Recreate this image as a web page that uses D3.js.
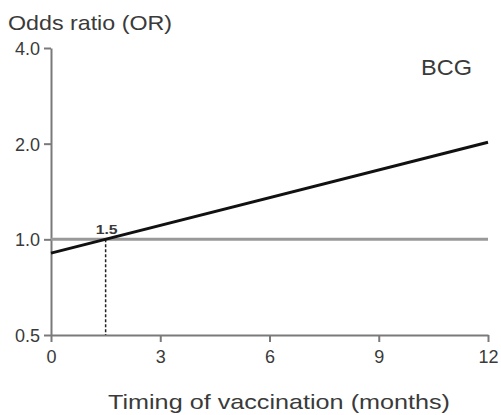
<!DOCTYPE html>
<html>
<head>
<meta charset="utf-8">
<script src="https://cdn.jsdelivr.net/npm/d3@7"></script>
<style>
  body { margin: 0; background: #fff; }
  svg { display: block; font-family: "Liberation Sans", Arial, sans-serif; }
</style>
</head>
<body>
<div id="chart"></div>
<script>
// fitted OR line (log scale), crosses 1.0 at 1.5 months
const lineMonths = [0, 12];
const lineOR = [0.905, 2.02];
const refOR = 1.0;
const crossMonth = 1.5;
const xTicks = [0, 3, 6, 9, 12];
const yTicks = [0.5, 1, 2, 4];
const yTickLabels = ['0.5', '1.0', '2.0', '4.0'];

const width = 501, height = 415;
const margin = { top: 48, right: 13, bottom: 80, left: 51 };

const svg = d3.select('#chart').append('svg')
  .attr('width', width)
  .attr('height', height);

const x = d3.scaleLinear()
  .domain([0, 12])
  .range([margin.left, width - margin.right]);

const y = d3.scaleLog()
  .base(2)
  .domain([0.5, 4])
  .range([height - margin.bottom, margin.top]);

const axisColor = '#7a7a7a';
const textColor = '#3a3a3a';

// axes
const xAxis = svg.append('g')
  .attr('transform', `translate(0, ${height - margin.bottom})`)
  .call(d3.axisBottom(x).tickValues(xTicks).tickSize(7).tickSizeOuter(0).tickPadding(8));
const yAxis = svg.append('g')
  .attr('transform', `translate(${margin.left}, 0)`)
  .call(d3.axisLeft(y).tickValues(yTicks).tickFormat((d, i) => yTickLabels[i])
    .tickSize(7).tickSizeOuter(0).tickPadding(4));

[xAxis, yAxis].forEach(g => {
  g.select('.domain').attr('stroke', axisColor).attr('stroke-width', 2);
  g.selectAll('line').attr('stroke', axisColor).attr('stroke-width', 2);
  g.selectAll('text')
   .attr('fill', textColor)
   .style('font-size', '18px');
});
yAxis.selectAll('text').attr('dy', '0.36em');

// reference line at OR = 1
svg.append('line')
   .attr('x1', x(0)).attr('x2', x(12))
   .attr('y1', y(refOR)).attr('y2', y(refOR))
   .attr('stroke', '#999')
   .attr('stroke-width', 3);

// dashed drop line at crossing
svg.append('line')
   .attr('x1', x(crossMonth)).attr('x2', x(crossMonth))
   .attr('y1', y(refOR)).attr('y2', y(0.5))
   .attr('stroke', '#222')
   .attr('stroke-width', 1.5)
   .attr('stroke-dasharray', '3,2');

// fitted line
const line = d3.line()
  .x((d, i) => x(lineMonths[i]))
  .y(d => y(d));
svg.append('path')
   .datum(lineOR)
   .attr('d', line)
   .attr('fill', 'none')
   .attr('stroke', '#111')
   .attr('stroke-width', 3);

// crossing label
svg.append('text')
   .attr('x', x(crossMonth) - 10)
   .attr('y', y(refOR) - 5)
   .attr('fill', textColor)
   .style('font-size', '13px')
   .style('font-weight', 'bold')
   .attr('textLength', 22)
   .attr('lengthAdjust', 'spacingAndGlyphs')
   .text('1.5');

// titles
svg.append('text')
   .attr('x', 8).attr('y', 30)
   .attr('fill', textColor)
   .style('font-size', '21px')
   .attr('textLength', 164)
   .attr('lengthAdjust', 'spacingAndGlyphs')
   .text('Odds ratio (OR)');

svg.append('text')
   .attr('x', 421).attr('y', 75)
   .attr('fill', textColor)
   .style('font-size', '22px')
   .attr('textLength', 51)
   .attr('lengthAdjust', 'spacingAndGlyphs')
   .text('BCG');

svg.append('text')
   .attr('x', 108).attr('y', 409)
   .attr('fill', textColor)
   .style('font-size', '21px')
   .attr('textLength', 342)
   .attr('lengthAdjust', 'spacingAndGlyphs')
   .text('Timing of vaccination (months)');
</script>
</body>
</html>
